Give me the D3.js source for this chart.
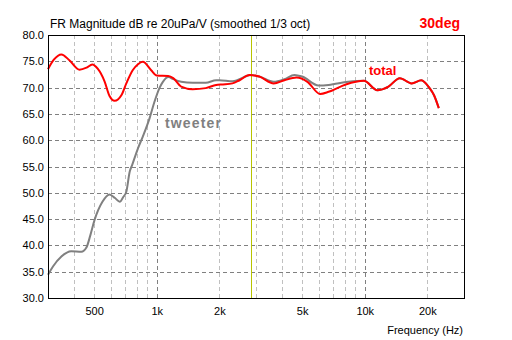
<!DOCTYPE html>
<html><head><meta charset="utf-8">
<script src="https://cdn.jsdelivr.net/npm/d3@7"></script>
<style>html,body{margin:0;padding:0;background:#fff;}svg{display:block;}</style>
</head><body>
<script>
// ---- data ----
const totalFreq = [300,320,348,380,425,460,490,520,561,593,627,677,714,766,810,857,940,1000,1135,1200,1310,1490,1720,1930,2080,2313,2500,2790,3110,3650,4110,4700,5300,6100,6700,8100,9900,11500,13000,14740,16800,18700,20500,21500,22700];
const totalDb   = [73.5,75.3,76.3,75.2,73.4,73.8,74.4,73.6,71.2,68.4,67.5,68.6,70.8,73.3,74.4,74.9,73.3,72.3,72.2,71.8,70.2,69.7,69.9,70.5,70.6,70.8,71.4,72.4,72.1,70.8,71.4,71.9,71.1,68.8,69.2,70.6,71.3,69.5,70.2,71.8,70.8,71.4,69.9,68.6,66.1];
const tweeterFreq = [300,317,348,388,434,459,480,502,548,593,630,664,690,714,741,762,813,857,924,975,1030,1070,1140,1200,1310,1490,1720,1930,2002,2313,2843,3110,3650,4110,4590,5000,6000,6700,8320,9900,11500,13000,14740,16800,18700,20500,21500,22700];
const tweeterDb   = [34.4,36.0,37.9,38.9,38.8,39.6,42.0,44.8,48.3,49.7,49.0,48.3,49.2,50.2,54.0,55.3,58.5,60.7,64.2,67.3,69.9,71.1,72.0,71.6,71.1,70.9,70.9,71.4,71.4,71.2,72.4,72.1,71.1,71.6,72.4,72.1,70.4,70.5,71.1,71.3,69.5,70.2,71.8,70.8,71.4,69.9,68.6,66.1];
const yTicks = [30,35,40,45,50,55,60,65,70,75,80];
const xTickVals = [500,1000,2000,5000,10000,20000];
const xTickLabels = ["500","1k","2k","5k","10k","20k"];
const minorGrid = [400,500,600,700,800,900,2000,3000,4000,5000,6000,7000,8000,9000,20000];
const decadeGrid = [1000,10000];
const markerFreq = [2830];
const titleText = "FR Magnitude dB re 20uPa/V (smoothed 1/3 oct)";
const angleText = "30deg";

// ---- chart ----
const W = 512, H = 340;
const svg = d3.select("body").append("svg").attr("width", W).attr("height", H)
  .style("font-family", "'Liberation Sans', Arial, sans-serif");
svg.append("rect").attr("width", W).attr("height", H).attr("fill", "#fff");

const L = 48, R = 464, T = 35, B = 298;
const x = d3.scaleLog().domain([300, 30000]).range([L, R]);
const y = d3.scaleLinear().domain([30, 80]).range([B, T]);
const px = v => Math.round(x(v)) + 0.5;
const py = v => Math.round(y(v)) + 0.5;

const grid = svg.append("g").attr("shape-rendering", "crispEdges");
grid.selectAll(".hg").data(yTicks.filter(v => v > 30 && v < 80)).join("line")
  .attr("x1", L).attr("x2", R).attr("y1", py).attr("y2", py)
  .attr("stroke", "#808080").attr("stroke-dasharray", "4,3");
grid.selectAll(".mg").data(minorGrid).join("line")
  .attr("x1", px).attr("x2", px).attr("y1", T).attr("y2", B)
  .attr("stroke", "#c0c0c0").attr("stroke-dasharray", "4,3");
grid.selectAll(".dg").data(decadeGrid).join("line")
  .attr("x1", px).attr("x2", px).attr("y1", T).attr("y2", B)
  .attr("stroke", "#808080").attr("stroke-dasharray", "4,3");
grid.selectAll(".mk").data(markerFreq).join("line")
  .attr("x1", px).attr("x2", px).attr("y1", T).attr("y2", B)
  .attr("stroke", "#b8c400").attr("stroke-width", 1.2);

const line = d3.line().x(d => x(d[0])).y(d => y(d[1])).curve(d3.curveMonotoneX);
svg.append("path").datum(tweeterFreq.map((f, i) => [f, tweeterDb[i]]))
  .attr("d", line).attr("fill", "none").attr("stroke", "#808080").attr("stroke-width", 2);
svg.append("path").datum(totalFreq.map((f, i) => [f, totalDb[i]]))
  .attr("d", line).attr("fill", "none").attr("stroke", "#ff0000").attr("stroke-width", 2);

svg.append("rect").attr("x", L + 0.5).attr("y", T + 0.5).attr("width", R - L).attr("height", B - T)
  .attr("fill", "none").attr("stroke", "#000").attr("shape-rendering", "crispEdges");

const yAxis = svg.append("g").attr("transform", `translate(${L},0)`)
  .call(d3.axisLeft(y).tickValues(yTicks).tickFormat(d3.format(".1f")).tickSize(0).tickPadding(4));
const xAxis = svg.append("g").attr("transform", `translate(0,${B})`)
  .call(d3.axisBottom(x).tickValues(xTickVals).tickFormat((d, i) => xTickLabels[i]).tickSize(0).tickPadding(9));
[yAxis, xAxis].forEach(a => {
  a.select(".domain").remove();
  a.selectAll("text").attr("font-size", 11).attr("fill", "#000")
    .attr("font-family", "'Liberation Sans', Arial, sans-serif");
});

svg.append("text").attr("x", 50).attr("y", 28).attr("font-size", 12).text(titleText);
svg.append("text").attr("x", 460).attr("y", 28).attr("text-anchor", "end")
  .attr("font-size", 14).attr("font-weight", "bold").attr("fill", "#ff0000").text(angleText);
svg.append("text").attr("x", 463).attr("y", 334).attr("text-anchor", "end")
  .attr("font-size", 11).text("Frequency (Hz)");
svg.append("text").attr("x", 369).attr("y", 75)
  .attr("font-size", 13).attr("font-weight", "bold").attr("fill", "#ff0000").text("total");
svg.append("text").attr("x", 165).attr("y", 128)
  .attr("font-size", 14).attr("font-weight", "bold").attr("fill", "#808080")
  .attr("textLength", 56).attr("lengthAdjust", "spacing").text("tweeter");
</script>
</body></html>
